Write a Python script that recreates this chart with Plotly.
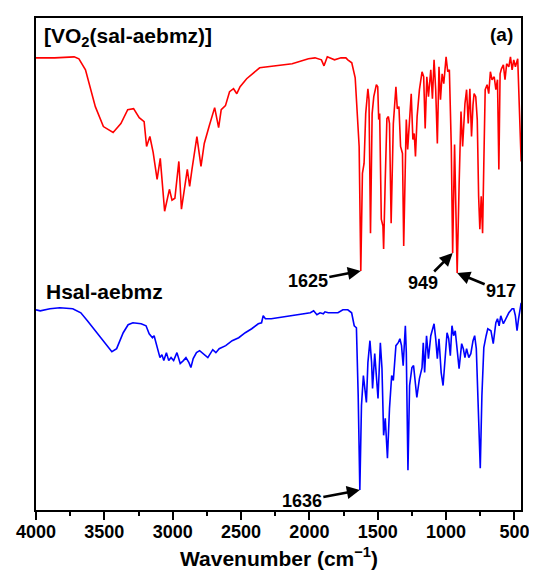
import plotly.graph_objects as go

# ---- data (wavenumber in cm-1, intensity in arbitrary units with offset) ----
red_wn = [4000, 3864, 3721, 3686, 3638, 3566, 3507, 3436, 3379, 3329,
          3286, 3245, 3209, 3191, 3167, 3143, 3114, 3091, 3059, 3024,
          3005, 2984, 2955, 2936, 2893, 2876, 2859, 2823, 2793, 2769,
          2734, 2693, 2664, 2645, 2614, 2584, 2555, 2531, 2507, 2459,
          2364, 2245, 2126, 2007, 1959, 1912, 1893, 1869, 1816, 1769,
          1733, 1719, 1690, 1665, 1650, 1636, 1624, 1612, 1600, 1588,
          1572, 1564, 1553, 1541, 1529, 1510, 1500, 1493, 1486, 1474,
          1462, 1457, 1445, 1433, 1422, 1414, 1402, 1386, 1367, 1357,
          1345, 1333, 1319, 1310, 1295, 1291, 1281, 1272, 1255, 1243,
          1233, 1224, 1212, 1195, 1176, 1164, 1153, 1141, 1129, 1112,
          1100, 1088, 1076, 1064, 1052, 1041, 1029, 1017, 1000, 988,
          976, 962, 952, 938, 926, 919, 905, 891, 879, 862,
          850, 838, 826, 814, 803, 795, 783, 772, 762, 753,
          743, 733, 724, 714, 700, 688, 676, 664, 648, 636,
          624, 614, 605, 595, 581, 569, 557, 541, 529, 517,
          505, 493, 476, 469, 457, 451]
red_t = [454, 454, 455, 453, 442, 405, 385, 379, 388, 402,
         403, 394, 390, 365, 375, 359, 332, 353, 300, 322,
         311, 313, 350, 302, 342, 325, 342, 375, 345, 368,
         385, 404, 384, 402, 406, 420, 423, 418, 425, 433,
         444, 446, 448, 453, 454, 452, 446, 455, 452, 454,
         454, 452, 449, 434, 400, 365, 240, 338, 348, 398,
         423, 412, 278, 398, 415, 427, 425, 392, 398, 292,
         285, 262, 332, 393, 395, 388, 288, 388, 425, 403,
         405, 365, 358, 265, 368, 392, 362, 382, 418, 372,
         378, 355, 395, 422, 440, 435, 383, 435, 415, 442,
         413, 452, 422, 368, 445, 412, 438, 428, 455, 440,
         442, 365, 258, 367, 278, 238, 325, 400, 365, 408,
         422, 388, 423, 375, 407, 418, 415, 392, 315, 282,
         315, 278, 348, 422, 427, 418, 440, 432, 435, 422,
         432, 342, 438, 443, 447, 432, 448, 445, 455, 442,
         452, 445, 453, 423, 363, 350]

blue_wn = [4000, 3969, 3898, 3826, 3731, 3672, 3624, 3565, 3493, 3445,
           3410, 3362, 3326, 3291, 3231, 3195, 3172, 3148, 3136, 3112,
           3093, 3079, 3065, 3046, 3029, 3012, 2993, 2969, 2945, 2922,
           2903, 2881, 2867, 2850, 2826, 2803, 2779, 2743, 2707, 2684,
           2660, 2612, 2565, 2517, 2469, 2422, 2374, 2350, 2338, 2322,
           2279, 2184, 2088, 1993, 1969, 1945, 1922, 1898, 1886, 1862,
           1826, 1791, 1755, 1719, 1691, 1672, 1656, 1643, 1631, 1619,
           1605, 1595, 1583, 1572, 1557, 1545, 1538, 1522, 1510, 1498,
           1481, 1469, 1457, 1445, 1429, 1414, 1398, 1386, 1367, 1350,
           1338, 1326, 1314, 1298, 1291, 1279, 1267, 1250, 1238, 1214,
           1195, 1176, 1167, 1157, 1143, 1129, 1112, 1100, 1088, 1076,
           1064, 1052, 1036, 1022, 1005, 993, 981, 969, 957, 945,
           933, 917, 905, 886, 874, 862, 850, 834, 819, 803,
           791, 779, 767, 750, 738, 724, 707, 695, 672, 655,
           636, 624, 612, 600, 581, 564, 541, 517, 505, 493,
           481, 470, 457, 451]
blue_t = [201, 200, 202, 203, 202, 198, 190, 180, 167, 159,
          162, 178, 186, 188, 187, 185, 177, 173, 175, 163,
          153, 156, 150, 158, 150, 153, 150, 158, 147, 150,
          153, 148, 143, 152, 158, 160, 157, 153, 161, 158,
          162, 165, 170, 173, 178, 182, 187, 188, 195, 192,
          192, 194, 196, 198, 200, 196, 198, 197, 199, 198,
          198, 198, 201, 201, 198, 185, 183, 115, 20, 105,
          135, 122, 108, 148, 170, 148, 122, 157, 135, 112,
          168, 142, 75, 92, 52, 102, 135, 130, 165, 168,
          172, 165, 145, 185, 158, 40, 125, 143, 145, 113,
          132, 143, 168, 138, 175, 152, 175, 180, 187, 172,
          152, 172, 138, 125, 158, 178, 172, 155, 185, 175,
          180, 158, 142, 167, 162, 153, 162, 153, 157, 170,
          175, 162, 115, 42, 115, 163, 175, 182, 180, 167,
          188, 192, 185, 195, 187, 192, 198, 202, 202, 195,
          180, 192, 206, 208]

tick_vals = [4000, 3500, 3000, 2500, 2000, 1500, 1000, 500]
tick_text = ["4000", "3500", "3000", "2500", "2000", "1500", "1000", "500"]

red_label = "[VO<sub>2</sub>(sal-aebmz)]"
blue_label = "Hsal-aebmz"
red_peaks = [1625, 949, 917]
blue_peaks = [1636]

FONT = "Liberation Sans, Arial, sans-serif"


def peak_tip(wn, t, target, window):
    cands = [(t[i], wn[i]) for i in range(len(wn)) if abs(wn[i] - target) <= window]
    tv, w = min(cands)
    return w, tv


fig = go.Figure()
fig.add_trace(go.Scatter(x=red_wn, y=red_t, mode="lines",
                         line=dict(color="#ff0000", width=1.6), showlegend=False))
fig.add_trace(go.Scatter(x=blue_wn, y=blue_t, mode="lines",
                         line=dict(color="#0000ff", width=1.6), showlegend=False))

annots = []
arrow_specs = [
    (red_wn, red_t, red_peaks[0], 15, -53, 10),
    (red_wn, red_t, red_peaks[1], 5, -30, 30),
    (red_wn, red_t, red_peaks[2], 5, 44, 18),
    (blue_wn, blue_t, blue_peaks[0], 10, -58, 11),
]
labels = [str(red_peaks[0]), str(red_peaks[1]), str(red_peaks[2]), str(blue_peaks[0])]
for (wn, t, target, win, ax, ay), lab in zip(arrow_specs, labels):
    xw, yt = peak_tip(wn, t, target, win)
    annots.append(dict(x=xw, y=yt, xref="x", yref="y", text=lab,
                       showarrow=True, arrowhead=2, arrowsize=1.0, arrowwidth=2.6,
                       arrowcolor="black", ax=ax, ay=ay, standoff=0,
                       font=dict(family=FONT, size=18, color="black", weight="bold")))

annots.append(dict(x=0.012, y=0.962, xref="paper", yref="paper", text=red_label,
                   showarrow=False, xanchor="left", yanchor="middle",
                   font=dict(family=FONT, size=21, color="black", weight="bold")))
annots.append(dict(x=0.016, y=0.445, xref="paper", yref="paper", text=blue_label,
                   showarrow=False, xanchor="left", yanchor="middle",
                   font=dict(family=FONT, size=21, color="black", weight="bold")))
annots.append(dict(x=0.987, y=0.967, xref="paper", yref="paper", text="(a)",
                   showarrow=False, xanchor="right", yanchor="middle",
                   font=dict(family=FONT, size=19, color="black", weight="bold")))
annots.append(dict(x=0.5, y=-0.095, xref="paper", yref="paper",
                   text="Wavenumber (cm<sup>\u22121</sup>)",
                   showarrow=False, xanchor="center", yanchor="middle",
                   font=dict(family=FONT, size=21, color="black", weight="bold")))

fig.update_layout(
    width=529, height=575,
    margin=dict(l=22, r=10, t=8, b=73),
    paper_bgcolor="white", plot_bgcolor="white",
    annotations=annots,
    xaxis=dict(range=[4000, 452], showgrid=False, zeroline=False,
               showline=True, linecolor="black", linewidth=2, mirror=True,
               tickmode="array", tickvals=tick_vals, ticktext=tick_text,
               ticks="outside", ticklen=8, tickwidth=2, tickcolor="black",
               ticklabelstandoff=-4,
               minor=dict(dtick=250, tick0=0, ticks="outside", ticklen=4,
                          tickwidth=2, tickcolor="black", showgrid=False),
               tickfont=dict(family=FONT, size=18, color="black", weight="bold")),
    yaxis=dict(range=[0, 494], showgrid=False, zeroline=False,
               showline=True, linecolor="black", linewidth=2, mirror=True,
               showticklabels=False, ticks=""),
)

fig.write_html("out.html")
